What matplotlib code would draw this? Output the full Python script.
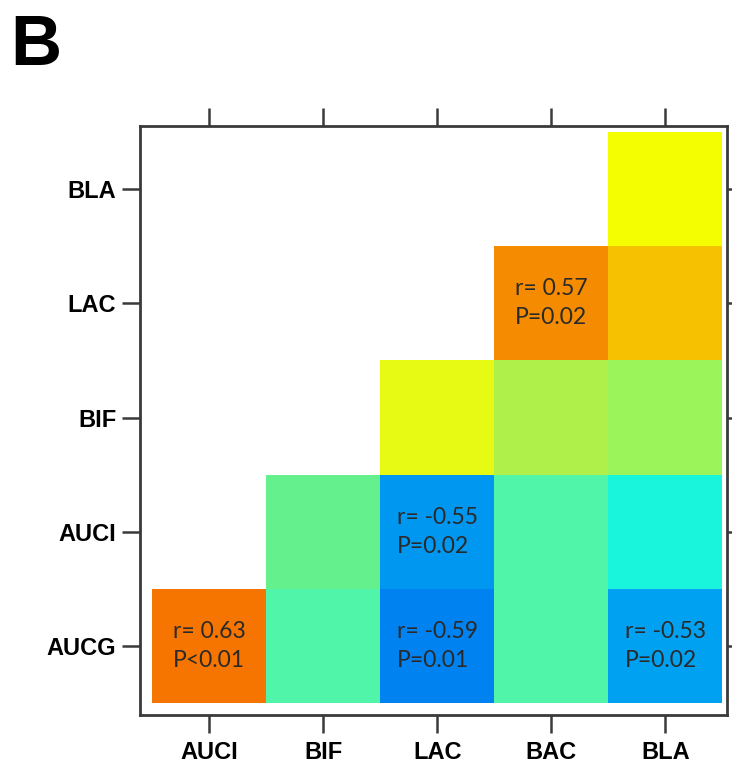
import numpy as np
import matplotlib
matplotlib.use("Agg")
import matplotlib.pyplot as plt
from matplotlib.colors import LinearSegmentedColormap, Normalize

# columns (x) and rows (y, bottom to top)
cols = ["AUCI", "BIF", "LAC", "BAC", "BLA"]
rows = ["AUCG", "AUCI", "BIF", "LAC", "BLA"]

nan = np.nan
r_AUCG = [0.63, -0.12, -0.59, -0.12, -0.53]
r_AUCI = [nan, 0.00, -0.55, -0.12, -0.30]
r_BIF = [nan, nan, 0.25, 0.15, 0.10]
r_LAC = [nan, nan, nan, 0.57, 0.45]
r_BLA = [nan, nan, nan, nan, 0.30]

# significant cells: (row, col, label)
notes = [
    (0, 0, "r= 0.63\nP<0.01"),
    (0, 2, "r= -0.59\nP=0.01"),
    (0, 4, "r= -0.53\nP=0.02"),
    (1, 2, "r= -0.55\nP=0.02"),
    (3, 3, "r= 0.57\nP=0.02"),
]

# colour scale
vmin, vmax = -0.6, 0.65
stops = [(-0.6, (0, 125, 240)), (-0.5, (0, 178, 240)), (-0.3, (25, 245, 220)),
         (-0.12, (80, 245, 170)), (0.0, (100, 240, 140)), (0.1, (155, 245, 90)),
         (0.15, (175, 240, 75)), (0.25, (230, 250, 20)), (0.3, (245, 255, 0)),
         (0.45, (245, 195, 0)), (0.57, (245, 140, 0)), (0.65, (245, 110, 0))]
cmap = LinearSegmentedColormap.from_list(
    "corr", [((v - vmin) / (vmax - vmin), tuple(c / 255 for c in col)) for v, col in stops])

data = np.ma.masked_invalid(np.array([r_AUCG, r_AUCI, r_BIF, r_LAC, r_BLA]))

fig = plt.figure(figsize=(7.32, 7.63), dpi=100)
ax = fig.add_axes([0.191, 0.063, 0.802, 0.772])

ax.pcolormesh(np.arange(-0.5, 5), np.arange(-0.5, 5), data, cmap=cmap,
              norm=Normalize(vmin, vmax), shading="flat")

for i, j, txt in notes:
    ax.text(j, i, txt, ha="center", va="center", multialignment="left",
            fontsize=16.5, family="Lato", color="#2a2a2a", linespacing=1.45)

ax.set_xlim(-0.61, 4.54)
ax.set_ylim(-0.6, 4.55)
ax.set_xticks(range(5))
ax.set_yticks(range(5))
ax.set_xticklabels(cols, fontsize=17, fontweight="bold", family="Liberation Sans")
ax.set_yticklabels(rows, fontsize=17, fontweight="bold", family="Liberation Sans")
ax.tick_params(axis="both", direction="out", length=13, width=1.8, color="#3a3a3a",
               top=True, right=True, pad=4)
ax.tick_params(axis="x", pad=6)
for s in ax.spines.values():
    s.set_linewidth(2)
    s.set_color("#3a3a3a")

fig.text(0.014, 1 - 65 / 763, "B", fontsize=51, fontweight="bold",
         family="Liberation Sans", va="baseline", ha="left")

fig.savefig("out.png", dpi=100)
